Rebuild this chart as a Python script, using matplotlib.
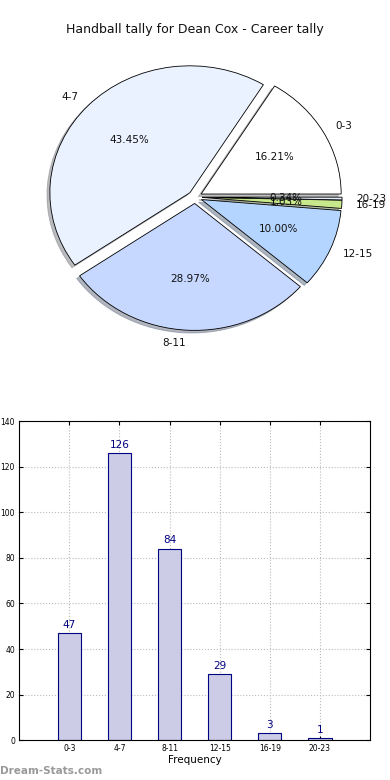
import numpy as np
import matplotlib.pyplot as plt

# tally de handballs por rango
rangos = ['0-3', '4-7', '8-11', '12-15', '16-19', '20-23']
cuentas = [47, 126, 84, 29, 3, 1]
colores = ['#FFFFFF', '#EBF2FF', '#C6D8FF', '#B4D5FF', '#C8E88C', '#E2EEFF']
titulo = 'Handball tally for Dean Cox - Career tally'

fig = plt.figure(figsize=(3.9, 7.8), dpi=100)
fig.text(0.5, 0.962, titulo, ha='center', va='center', fontsize=9, color='#111111')

# grafico de torta
ax1 = fig.add_axes([0.105, 0.5683, 0.79, 0.358])
wedges, textos, autotextos = ax1.pie(cuentas, labels=rangos, colors=colores,
                                     explode=[0.05] * len(cuentas), autopct='%1.2f%%',
                                     shadow={'ox': -0.015, 'oy': -0.015, 'shade': 0.5},
                                     startangle=0, counterclock=True,
                                     wedgeprops={'edgecolor': 'black', 'linewidth': 0.6},
                                     textprops={'fontsize': 7.5, 'color': '#111111'})
ax1.set_aspect('auto')
ax1.set_xlim(-1.1, 1.1)
ax1.set_ylim(-1.1, 1.1)

# grafico de barras
ax2 = fig.add_axes([0.049, 0.051, 0.9, 0.409])
x = np.arange(len(rangos))
barras = ax2.bar(x, cuentas, width=0.46, color='#CCCCE6', edgecolor='#000080', linewidth=0.8, zorder=2)
for xi, v in zip(x, cuentas):
    ax2.text(xi, v + 1.5, str(v), ha='center', va='bottom', fontsize=7.5, color='#000080')
ax2.set_xlim(-1, 6)
ax2.set_ylim(0, 140)
ax2.set_yticks(range(0, 141, 20))
ax2.set_xticks(x)
ax2.set_xticklabels(rangos)
ax2.tick_params(labelsize=5.5, direction='in', top=True, right=True, length=3, pad=3)
ax2.grid(True, linestyle=':', color='#BBBBBB', linewidth=0.8, zorder=0)
ax2.set_xlabel('Frequency', fontsize=7.5, labelpad=1)

fig.text(0.0, 0.012, 'Dream-Stats.com', fontsize=7.5, color='#999999', fontweight='bold', ha='left', va='center')

plt.savefig('out.png', dpi=100)
